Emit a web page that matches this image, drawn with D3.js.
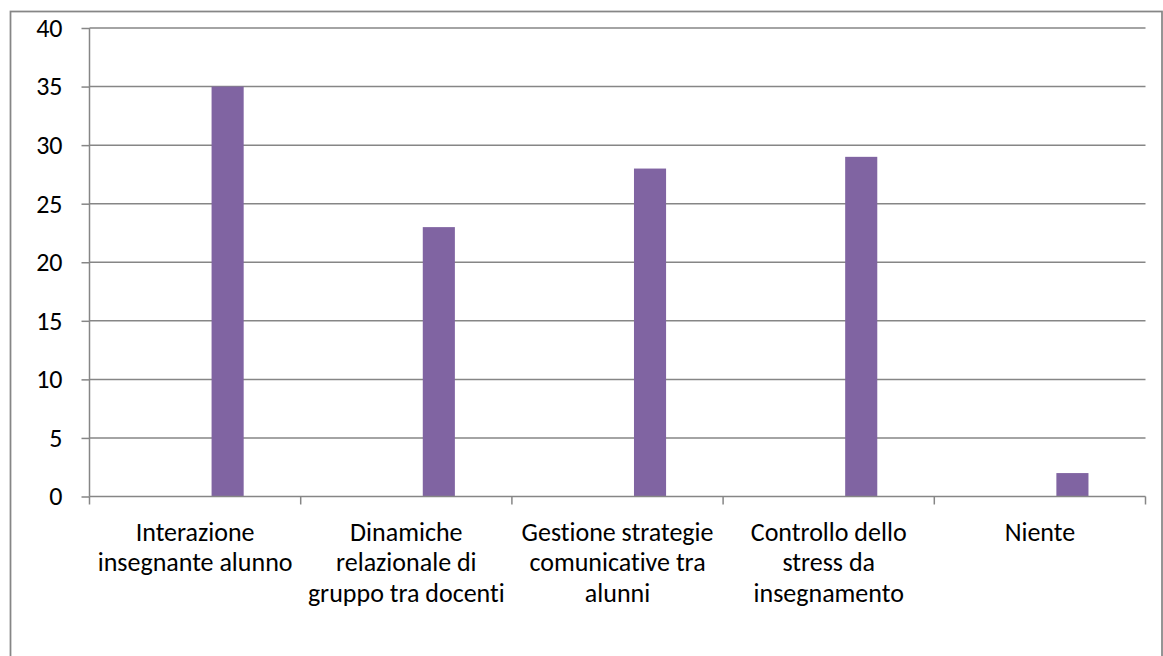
<!DOCTYPE html>
<html>
<head>
<meta charset="utf-8">
<script src="https://cdn.jsdelivr.net/npm/d3@7"></script>
<style>
  body { margin: 0; background: #fff; }
  svg text { font-family: Carlito, "Open Sans", sans-serif; fill: #000; font-variant-ligatures: none; }
</style>
</head>
<body>
<svg id="visframe" width="1163" height="656"></svg>
<script>
// chart data
var categories = ["Interazione insegnante alunno", "Dinamiche relazionale di gruppo tra docenti",
    "Gestione strategie comunicative tra alunni", "Controllo dello stress da insegnamento", "Niente"];
var values = [35, 23, 28, 29, 2];
// wrapped label lines, as shown under each category
var labelLines = [
    ["Interazione", "insegnante alunno"],
    ["Dinamiche", "relazionale di", "gruppo tra docenti"],
    ["Gestione strategie", "comunicative tra", "alunni"],
    ["Controllo dello", "stress da", "insegnamento"],
    ["Niente"]
];
var yTicks = [0, 5, 10, 15, 20, 25, 30, 35, 40];

var barColor = "#8064a2";
var gridColor = "#868686";
var fontSize = 26;

var plot = { left: 89.5, right: 1145.5, top: 28, bottom: 496.5 };

var svg = d3.select("#visframe");

// outer chart border (bottom runs off the page)
svg.append("rect")
    .attr("x", 10.5).attr("y", 11.5)
    .attr("width", 1151.5).attr("height", 700)
    .attr("fill", "none")
    .attr("stroke", gridColor)
    .attr("stroke-width", 1.75);

var x = d3.scaleBand()
    .domain(d3.range(categories.length))
    .range([plot.left, plot.right])
    .paddingInner(0).paddingOuter(0);

var y = d3.scaleLinear()
    .domain([0, 40])
    .range([plot.bottom, plot.top]);

// gridlines
svg.append("g").selectAll("line")
    .data(yTicks.filter(function(t){ return t > 0; }))
    .enter().append("line")
    .attr("x1", plot.left).attr("x2", plot.right)
    .attr("y1", function(d){ return y(d); })
    .attr("y2", function(d){ return y(d); })
    .attr("stroke", gridColor)
    .attr("stroke-width", 1.5);

// bars sit right of centre in each category (excel grouped-bar look)
var barOffset = 0.578, barWidth = 0.152;
svg.append("g").selectAll("rect")
    .data(values)
    .enter().append("rect")
    .attr("x", function(d, i){ return x(i) + x.bandwidth() * barOffset; })
    .attr("width", x.bandwidth() * barWidth)
    .attr("y", function(d){ return y(d); })
    .attr("height", function(d){ return y(0) - y(d); })
    .attr("fill", barColor);

// y axis
var yAxis = svg.append("g")
    .attr("transform", "translate(" + plot.left + ",0)")
    .call(d3.axisLeft(y).tickValues(yTicks).tickSize(8).tickPadding(19));
yAxis.selectAll("line").attr("stroke", gridColor).attr("stroke-width", 1.5);
yAxis.select(".domain").attr("stroke", gridColor).attr("stroke-width", 1.5)
    .attr("d", "M0," + plot.top + "V" + plot.bottom);
yAxis.selectAll("text")
    .style("font-size", fontSize + "px")
    .style("font-family", "Carlito, 'Open Sans', sans-serif")
    .attr("fill", "#000");

// x axis with boundary ticks
var xb = d3.scaleLinear().domain([0, categories.length]).range([plot.left, plot.right]);
var xAxis = svg.append("g")
    .attr("transform", "translate(0," + plot.bottom + ")");
xAxis.append("line")
    .attr("x1", plot.left).attr("x2", plot.right)
    .attr("stroke", gridColor).attr("stroke-width", 1.5);
xAxis.selectAll(".tick")
    .data(d3.range(categories.length + 1))
    .enter().append("line")
    .attr("x1", function(d){ return xb(d); })
    .attr("x2", function(d){ return xb(d); })
    .attr("y1", 0).attr("y2", 8)
    .attr("stroke", gridColor).attr("stroke-width", 1.5);

// category labels
var labels = svg.append("g").selectAll("text")
    .data(labelLines)
    .enter().append("text")
    .attr("text-anchor", "middle")
    .style("font-size", fontSize + "px")
    .attr("transform", function(d, i){
        return "translate(" + (x(i) + x.bandwidth() / 2) + ",0)";
    });
labels.selectAll("tspan")
    .data(function(d){ return d; })
    .enter().append("tspan")
    .attr("x", 0)
    .attr("y", function(d, j){ return 540.5 + j * 30.7; })
    .text(function(d){ return d; });
</script>
</body>
</html>
